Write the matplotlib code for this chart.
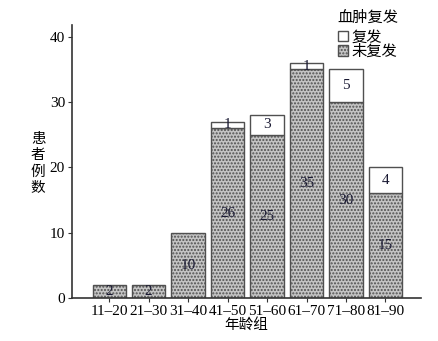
import matplotlib.pyplot as plt
from matplotlib.patches import Rectangle
import numpy as np

plt.rcParams['font.family'] = ['Liberation Serif', 'Noto Sans CJK SC']

groups = ['11–20', '21–30', '31–40', '41–50', '51–60', '61–70', '71–80', '81–90']
no_recur = [2, 2, 10, 26, 25, 35, 30, 16]
recur = [0, 0, 0, 1, 3, 1, 5, 4]
no_recur_labels = ['2', '2', '10', '26', '25', '35', '30', '15']
recur_labels = ['', '', '', '1', '3', '1', '5', '4']

fig = plt.figure(figsize=(4.39, 3.41), dpi=100)
ax = fig.add_axes([0.164, 0.126, 0.795, 0.801])

x = np.arange(len(groups))
w = 0.84
gray = '#c4c4c4'
edge = '#505050'
ax.bar(x, no_recur, w, color=gray, edgecolor=edge, linewidth=1.0, hatch='.....')
b2 = ax.bar(x, recur, w, bottom=no_recur, color='white', edgecolor=edge, linewidth=1.0)
for r in b2:
    if r.get_height() == 0:
        r.set_visible(False)

for i in range(len(groups)):
    ax.text(x[i], no_recur[i] / 2, no_recur_labels[i], ha='center', va='center',
            fontsize=11, color='#1a1a33')
    if recur_labels[i]:
        ax.text(x[i], no_recur[i] + recur[i] / 2, recur_labels[i], ha='center',
                va='center', fontsize=11, color='#1a1a33')

ax.set_xlim(-0.94, 7.9)
ax.set_ylim(0, 41.8)
ax.set_yticks([0, 10, 20, 30, 40])
ax.set_xticks(x)
ax.set_xticklabels(groups)
ax.tick_params(labelsize=11, length=3, color='#333333', pad=2)
for s in ['top', 'right']:
    ax.spines[s].set_visible(False)
for s in ['left', 'bottom']:
    ax.spines[s].set_linewidth(1.2)
    ax.spines[s].set_color('#333333')

ax.set_xlabel('年龄组', fontsize=10.5, labelpad=0)
ax.set_ylabel('患\n者\n例\n数', rotation=0, fontsize=10.5, linespacing=1.3,
              va='center')
ax.yaxis.set_label_coords(-0.097, 0.49)

h_rec = Rectangle((0, 0), 1, 1, facecolor='white', edgecolor=edge, linewidth=1.0)
h_no = Rectangle((0, 0), 1, 1, facecolor=gray, edgecolor=edge, linewidth=1.0,
                 hatch='.....')
leg = ax.legend(handles=[h_rec, h_no], labels=['复发', '未复发'], title='血肿复发',
                loc='upper left', bbox_to_anchor=(0.735, 1.085), frameon=False,
                fontsize=11, title_fontsize=11, handlelength=0.7,
                handleheight=0.7, handletextpad=0.2, labelspacing=0.0,
                borderpad=0.1)
leg._legend_box.align = 'left'
leg._legend_box.sep = 4

plt.savefig('out.png', dpi=100)
